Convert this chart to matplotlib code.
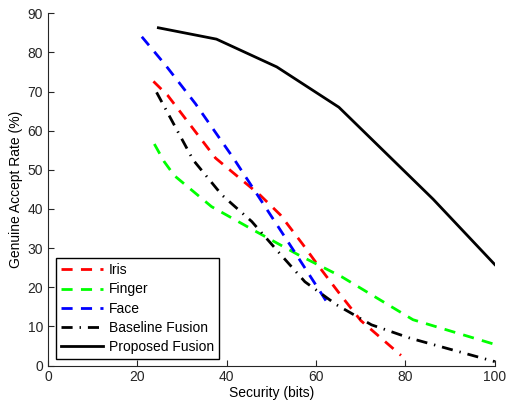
import matplotlib
matplotlib.use("Agg")
import matplotlib.pyplot as plt

plt.rcParams['font.family'] = ['Liberation Sans', 'DejaVu Sans']

iris_x = [23.6, 26.8, 37.5, 47.5, 52.0, 57.0, 60.5, 65.5, 70.0, 79.0]
iris_y = [72.6, 69.0, 53.0, 43.5, 38.5, 31.0, 25.5, 18.0, 11.5, 2.6]

finger_x = [23.8, 26.0, 28.3, 36.6, 46.3, 56.0, 65.7, 81.7, 100.0]
finger_y = [56.6, 52.1, 48.5, 40.6, 34.4, 28.3, 22.7, 11.7, 5.4]

face_x = [21.0, 26.2, 33.0, 41.5, 51.5, 55.6, 62.2]
face_y = [84.0, 76.9, 66.9, 53.0, 35.5, 28.3, 16.6]

base_x = [24.3, 32.5, 38.9, 45.6, 51.5, 57.5, 64.6, 72.4, 81.0, 100.0]
base_y = [69.8, 52.5, 43.6, 36.8, 29.1, 21.4, 15.5, 10.4, 7.0, 1.0]

prop_x = [24.7, 37.7, 51.2, 65.1, 86.2, 100.0]
prop_y = [86.3, 83.4, 76.3, 66.0, 42.5, 25.8]

fig = plt.figure(figsize=(5.08, 4.03), dpi=100)
ax = fig.add_axes([0.0945, 0.093, 0.8795, 0.874])

dash = (4.0, 3.0)
ax.plot(iris_x, iris_y, color='#ff0000', lw=2.0, dashes=dash, label='Iris')
ax.plot(finger_x, finger_y, color='#00ff00', lw=2.0, dashes=dash, label='Finger')
ax.plot(face_x, face_y, color='#0000ff', lw=2.0, dashes=dash, label='Face')
ax.plot(base_x, base_y, color='black', lw=2.0, dashes=(4.0, 2.5, 0.5, 2.5), label='Baseline Fusion')
ax.plot(prop_x, prop_y, color='black', lw=2.0, label='Proposed Fusion')

ax.set_xlim(0, 100)
ax.set_ylim(0, 90)
ax.set_xticks(range(0, 101, 20))
ax.set_yticks(range(0, 91, 10))
ax.spines['top'].set_visible(False)
ax.spines['right'].set_visible(False)
for s in ['left', 'bottom']:
    ax.spines[s].set_color('#262626')
    ax.spines[s].set_linewidth(0.8)
ax.tick_params(direction='in', length=4, labelsize=10, colors='#262626')
ax.set_xlabel('Security (bits)', fontsize=10, labelpad=1)
ax.set_ylabel('Genuine Accept Rate (%)', fontsize=10, labelpad=3)

leg = ax.legend(loc='lower left', bbox_to_anchor=(0.018, 0.018), borderaxespad=0,
                fontsize=10, fancybox=False, edgecolor='black', framealpha=1,
                handlelength=3.0, borderpad=0.35, labelspacing=0.38, handletextpad=0.45)
leg.get_frame().set_linewidth(1.0)

fig.savefig('out.png', dpi=100)
